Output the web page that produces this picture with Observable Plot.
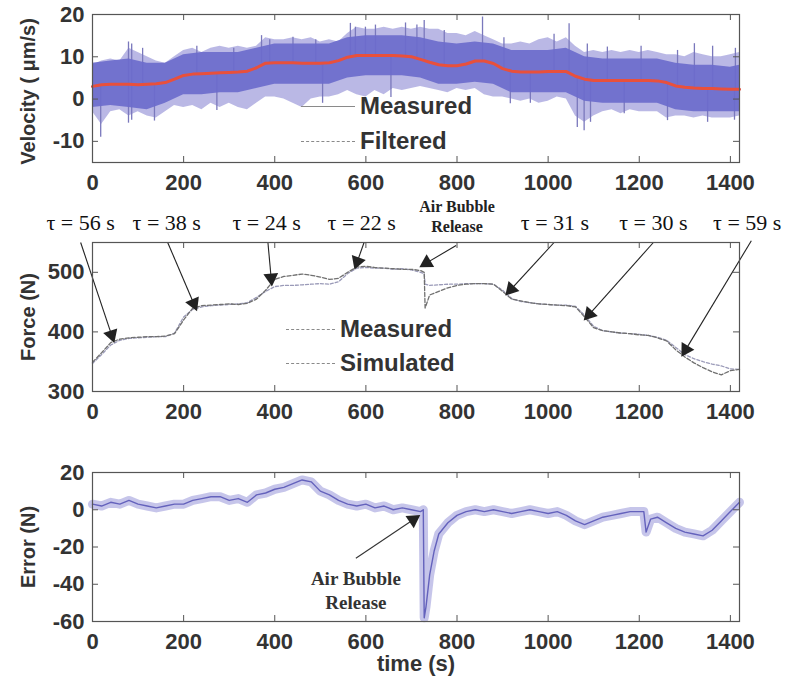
<!DOCTYPE html>
<html><head><meta charset="utf-8">
<script src="https://cdn.jsdelivr.net/npm/d3@7"></script>
<script src="https://cdn.jsdelivr.net/npm/@observablehq/plot@0.6"></script>
<style>
body{margin:0;background:#fff;}
#wrap{position:relative;width:792px;height:687px;overflow:hidden;font-family:"Liberation Sans",Arial,sans-serif;}
.p{position:absolute;left:0;}
.lg{position:absolute;font-size:24px;font-weight:bold;color:#333;line-height:24px;transform:translateY(-50%);white-space:nowrap;}
.ln{position:absolute;height:0;border-top:1.3px solid #8a8a8a;}
.ln.d{border-top-style:dashed;}
</style></head><body>
<div id="wrap">
  <div class="p" id="p1" style="top:0"></div>
  <div class="p" id="p2" style="top:200px"></div>
  <div class="p" id="p3" style="top:430px"></div>
</div>
<script>
// ---------- shared axis ticks ----------
const xTicks = [0, 200, 400, 600, 800, 1000, 1200, 1400];
const velTicks = [-10, 0, 10, 20];
const forceTicks = [300, 400, 500];
const errTicks = [-60, -40, -20, 0, 20];

// ---------- Panel 1: velocity (µm/s) ----------
const vTime = [0,20,40,60,80,100,120,140,160,180,200,220,240,260,280,300,320,340,360,380,400,420,440,460,480,500,520,540,560,580,600,620,640,660,680,700,720,740,760,780,800,820,840,860,880,900,920,940,960,980,1000,1020,1040,1060,1080,1100,1120,1140,1160,1180,1200,1220,1240,1260,1280,1300,1320,1340,1360,1380,1400,1420];
const vUpper = [8,9,9.5,9,12,11,10,9,8.5,10, 11.5,12,11,12,12.5,12,12.5,12,12.5,14.5, 14,14,14.5,14,14.5,13.5,14,13.5,15.5,17, 16.5,16.5,17,16.5,17,16.5,17,16.5,16.5,15.5, 15.5,15,16,15,14,13,13,13.5,13,14, 14.5,13.5,14.5,12.5,11,11.5,11,11.5,11,11.5, 11,11.5,11,10.5,10.5,10,11,10.5,10,10, 10.5,11];
const vLower = [-3,-6,-3,-2.5,-4,-3,-4,-4.5,-3,-1.5, -2,-1.5,-2.5,-1,-2,-1,-2,-2.5,-1,0.5, 0.5,0,-1,-2,0,0.5,0.5,1,2,1, 0.5,2,1,2.5,2,2.5,3,2.5,2,1.5, 2.5,2,2.5,1,0.5,0.5,0,-0.5,0,-1, -0.5,0.5,0,-4,-5.5,-4,-3,-2.5,-3.5,-2.5, -3,-3,-3,-4.5,-4,-4,-4.5,-4,-4.5,-4.5, -4.5,-4];
const vFiltered = [3.0,3.4,3.5,3.5,3.5,3.4,3.5,3.6,3.9,4.7, 5.6,5.9,6.0,6.1,6.2,6.3,6.4,6.6,7.4,8.5, 8.6,8.6,8.6,8.5,8.5,8.5,8.6,9.1,9.9,10.3, 10.3,10.3,10.3,10.3,10.2,10.0,9.4,8.7,8.1,7.9, 7.9,8.3,9.0,9.0,8.4,7.2,6.6,6.4,6.4,6.4, 6.5,6.5,6.5,5.4,4.7,4.4,4.4,4.4,4.4,4.4, 4.4,4.4,4.3,3.9,3.1,2.8,2.6,2.5,2.5,2.4, 2.3,2.3];
const coreTime = [0,40,80,120,160,200,240,280,320,360,400,440,480,520,560,600,640,680,720,760,800,840,880,920,960,1000,1040,1080,1120,1160,1200,1240,1280,1320,1360,1400,1420];
const coreUpper = [8.5,9,9.5,8.5,8.5,10.5,11,11,11,12,13,13,13,13,14.5,15,15,15,14.5,13.5,13,13.5,13,11.5,11.5,11.5,12,10,9.5,9.5,9.5,9.5,8.5,8,8,7.5,8];
const coreLower = [-2,-1.5,-2,-2.5,-1,1,1,1.5,1.5,2.5,3.5,3.5,3.5,3.5,5,5.5,5.5,5.5,5,3.5,3.5,4,3.5,1.5,1.5,1.5,1.5,-0.5,-1,-1,-1,-1,-2.5,-3,-3,-3,-3];
// individual spikes of the measured signal: time (s), tip value (µm/s)
const spikeT = [79,86,110,229,310,371,389,440,490,566,577,599,621,687,712,728,772,856,903,1013,1046,1086,1130,1204,1284,1321,1361,1411, 18,79,86,136,273,505,655,917,961,1064,1079,1093,1167,1262,1350,1409];
const spikeV = [13.5,13,12,12.5,12,15,14,14.6,14,17.9,17,17,17.5,18,17.5,18.6,16.2,19.4,14.5,15.3,17.8,13,12.3,12.5,11.5,13.1,12.5,12, -9,-5.7,-5,-5.2,-2.7,-1,0.4,-1.1,-1,-6.7,-7.5,-5.5,-3.5,-5.1,-5.5,-5];

// ---------- Panel 2: force (N) ----------
const fTime = [0,20,40,60,80,100,120,140,160,180,200,220,240,260,280,300,320,340,360,380,400,420,440,460,480,500,520,540,560,580,600,620,640,660,680,700,720,728,730,740,760,780,800,820,840,860,880,900,920,940,960,980,1000,1020,1040,1060,1080,1100,1120,1140,1160,1180,1200,1220,1240,1260,1280,1300,1320,1340,1360,1380,1400,1420];
const fMeasured = [349,365,382,388,390,391,392,392,393,397, 420,440,444,445,446,447,446,448,455,470, 488,493,495,497,495,492,488,490,500,509, 510,508,507,506,505,505,503, 500,440, 462,468,474,478,480,481,481,480,468,455, 452,449,447,446,445,444,442,425,407,402, 400,398,397,395,394,390,385,370,358,348, 340,333,328,335,337];
const fSimulated = [347,362,378,386,389,390,391,392,392,398, 425,438,442,444,445,446,447,449,458,468, 476,478,478,479,480,481,480,484,498,507, 508,507,507,505,506,504,500, 498,480, 478,479,480,480,481,481,481,480,470,456, 451,449,447,446,445,445,443,428,409,402, 400,398,397,396,394,391,386,374,362,355, 350,346,343,338,337];

// annotations (data units: time s, force N)
const tauText = ["τ = 56 s","τ = 38 s","τ = 24 s","τ = 22 s","τ = 31 s","τ = 30 s","τ = 59 s"];
const tauTextT = [-26, 163, 382, 591, 1015, 1231, 1437];
const tauTextF = 583;
const tauFromT = [-26, 165, 385, 596, 1013, 1231, 1446];
const tauFromF = [550, 550, 550, 550, 550, 550, 553];
const tauToT = [45, 226, 393, 578, 912, 1084, 1297];
const tauToF = [388, 441, 483, 511, 466, 424, 364];
const bubbleTopText = ["Air Bubble", "Release"];
const bubbleTopT = 800, bubbleTopF = [609, 577];
const bubbleTopArrow = {x1: 798, y1: 545, x2: 725, y2: 512};

// ---------- Panel 3: error (N) ----------
const eTime = [0,20,40,60,80,100,120,140,160,180,200,220,240,260,280,300,320,340,360,380,400,420,440,460,480,500,520,540,560,580,600,620,640,660,680,700,720,726,728,732,740,750,760,780,800,820,840,860,880,900,920,940,960,980,1000,1020,1040,1060,1080,1100,1120,1140,1160,1180,1200,1210,1215,1225,1240,1260,1280,1300,1320,1340,1360,1380,1400,1420];
const eValue = [3,2,4,3,5,3,2,1,2,3, 3,5,6,7,7,5,6,4,8,9, 11,12,14,16,15,10,8,5,3,2, 3,1,2,0,1,0,-1, 0,-58,-52,-35,-22,-13,-7, -3,-1,0,-1,0,-1,-2,-1,0,-1,-2,-1,-3,-6,-8,-6,-4,-3,-2,-1,-1, -1,-12,-5, -4,-7,-10,-12,-13,-14,-11,-6,-1,4];
const bubbleBotText = ["Air Bubble", "Release"];
const bubbleBotT = 578, bubbleBotE = [-37, -50];
const bubbleBotArrow = {x1: 578, y1: -26, x2: 712, y2: -4};

// ---------- helpers ----------
const W = 792, ML = 92, MR = 53;
const innerW = W - ML - MR;
const sans = "Liberation Sans, Arial, sans-serif";
const serif = "Liberation Serif, Times New Roman, serif";

function boxMarks(yTicks, innerH, yLabel, labelDy) {
  return [
    Plot.frame({stroke: "#555", strokeWidth: 1.2}),
    Plot.tickX(xTicks, {x: d => d, insetTop: innerH - 6, stroke: "#555"}),
    Plot.tickX(xTicks, {x: d => d, insetBottom: innerH - 6, stroke: "#555"}),
    Plot.tickY(yTicks, {y: d => d, insetRight: innerW - 6, stroke: "#555"}),
    Plot.tickY(yTicks, {y: d => d, insetLeft: innerW - 6, stroke: "#555"}),
    Plot.axisX({ticks: xTicks, tickSize: 0, tickPadding: 12, tickFormat: d => String(d), fontSize: 22, fontWeight: "bold", label: null}),
    Plot.axisY({ticks: yTicks, tickSize: 0, tickPadding: 8, tickFormat: d => String(d), fontSize: 22, fontWeight: "bold", label: null}),
    Plot.text([yLabel], {frameAnchor: "left", textAnchor: "middle", lineAnchor: "middle", dx: -64, dy: labelDy || 0, rotate: -90, text: d => d, fontSize: 20, fontWeight: "bold", fontFamily: sans, fill: "#333"})
  ];
}
// arrow heads: filled triangles placed at the arrow tips, rotated along the shaft
function headsFor(arrows, sx, sy) {
  return arrows.map(a => {
    const x1 = sx.apply(a.x1), y1 = sy.apply(a.y1), x2 = sx.apply(a.x2), y2 = sy.apply(a.y2);
    const L = Math.hypot(x2 - x1, y2 - y1), ux = (x2 - x1) / L, uy = (y2 - y1) / L;
    const back = 4.5;
    return {x: sx.invert(x2 - ux * back), y: sy.invert(y2 - uy * back), rot: Math.atan2(x2 - x1, -(y2 - y1)) * 180 / Math.PI};
  });
}
const baseStyle = {fontFamily: sans, color: "#333", background: "transparent", overflow: "visible"};
const sxAll = Plot.scale({x: {domain: [0, 1420], range: [ML, W - MR]}});

// ---------- Panel 1 ----------
const vRows = vTime.map((t, i) => ({t, lo: vLower[i], hi: vUpper[i], f: vFiltered[i]}));
const cRows = coreTime.map((t, i) => ({t, lo: coreLower[i], hi: coreUpper[i]}));
const spikeRows = spikeT.map((t, i) => {
  const k = d3.bisectCenter(vTime, t);
  return {t, tip: spikeV[i], base: vFiltered[k]};
});
const p1 = Plot.plot({
  width: W, height: 200, marginLeft: ML, marginRight: MR, marginTop: 14, marginBottom: 38,
  x: {domain: [0, 1420]}, y: {domain: [-15, 20]},
  style: baseStyle,
  marks: [
    Plot.areaY(vRows, {x: "t", y1: "lo", y2: "hi", fill: "#a3a0dc", fillOpacity: 0.75}),
    Plot.ruleX(spikeRows, {x: "t", y1: "base", y2: "tip", stroke: "#7a78bc", strokeWidth: 1.3}),
    Plot.areaY(cRows, {x: "t", y1: "lo", y2: "hi", fill: "#6b6bcc", fillOpacity: 0.92}),
    Plot.lineY(vRows, {x: "t", y: "f", stroke: "#e8503c", strokeWidth: 3}),
    ...boxMarks(velTicks, 148, "Velocity ( μm/s)", 3)
  ]
});
document.getElementById("p1").appendChild(p1);

// ---------- Panel 2 ----------
const fRows = fTime.map((t, i) => ({t, m: fMeasured[i], s: fSimulated[i]}));
const tauRows = tauText.map((s, i) => ({s, t: tauTextT[i], f: tauTextF}));
const tauArrows = tauText.map((s, i) => ({x1: tauFromT[i], y1: tauFromF[i], x2: tauToT[i], y2: tauToF[i]})).concat([bubbleTopArrow]);
const syF = Plot.scale({y: {domain: [300, 550], range: [230 - 39, 42]}});
const p2 = Plot.plot({
  width: W, height: 230, marginLeft: ML, marginRight: MR, marginTop: 42, marginBottom: 39,
  x: {domain: [0, 1420]}, y: {domain: [300, 550]},
  style: baseStyle,
  marks: [
    Plot.lineY(fRows, {x: "t", y: "s", stroke: "#9a9ab8", strokeWidth: 1.3, strokeDasharray: "3,2"}),
    Plot.lineY(fRows, {x: "t", y: "m", stroke: "#707070", strokeWidth: 1.3, strokeDasharray: "4,2"}),
    Plot.link(tauArrows, {x1: "x1", y1: "y1", x2: "x2", y2: "y2", stroke: "#222", strokeWidth: 1.1}),
    Plot.dot(headsFor(tauArrows, sxAll, syF), {x: "x", y: "y", rotate: "rot", symbol: "triangle", r: 5.5, fill: "#222", stroke: "none"}),
    Plot.text(tauRows, {x: "t", y: "f", text: "s", fontFamily: serif, fontSize: 22, fill: "#111"}),
    Plot.text(bubbleTopText, {x: () => bubbleTopT, y: (d, i) => bubbleTopF[i], text: d => d, fontFamily: serif, fontSize: 16, fontWeight: "bold", fill: "#222"}),
    ...boxMarks(forceTicks, 149, "Force (N)")
  ]
});
document.getElementById("p2").appendChild(p2);

// ---------- Panel 3 ----------
const eRows = eTime.map((t, i) => ({t, e: eValue[i]}));
const syE = Plot.scale({y: {domain: [-60, 20], range: [257 - 66, 42]}});
const p3 = Plot.plot({
  width: W, height: 257, marginLeft: ML, marginRight: MR, marginTop: 42, marginBottom: 66,
  x: {domain: [0, 1420]}, y: {domain: [-60, 20]},
  style: baseStyle,
  marks: [
    Plot.lineY(eRows, {x: "t", y: "e", stroke: "#8e8cd6", strokeWidth: 9, strokeOpacity: 0.5}),
    Plot.lineY(eRows, {x: "t", y: "e", stroke: "#6462bc", strokeWidth: 1.4}),
    Plot.link([bubbleBotArrow], {x1: "x1", y1: "y1", x2: "x2", y2: "y2", stroke: "#333", strokeWidth: 1.1}),
    Plot.dot(headsFor([bubbleBotArrow], sxAll, syE), {x: "x", y: "y", rotate: "rot", symbol: "triangle", r: 5.5, fill: "#222", stroke: "none"}),
    Plot.text(bubbleBotText, {x: () => bubbleBotT, y: (d, i) => bubbleBotE[i], text: d => d, fontFamily: serif, fontSize: 19, fontWeight: "bold", fill: "#333"}),
    ...boxMarks(errTicks, 149, "Error (N)"),
    Plot.text(["time (s)"], {frameAnchor: "bottom", dy: 49, text: d => d, fontSize: 22, fontWeight: "bold", fontFamily: sans, fill: "#333"})
  ]
});
document.getElementById("p3").appendChild(p3);

// ---------- legends (HTML overlay) ----------
const legendItems = [
  {label: "Measured", y: 106, x: 360, lx1: 301, lx2: 355, dashed: false},
  {label: "Filtered", y: 141, x: 360, lx1: 301, lx2: 355, dashed: true},
  {label: "Measured", y: 329, x: 340, lx1: 286, lx2: 335, dashed: true},
  {label: "Simulated", y: 363, x: 340, lx1: 286, lx2: 335, dashed: true}
];
const wrap = document.getElementById("wrap");
legendItems.forEach(d => {
  const ln = document.createElement("div");
  ln.className = "ln" + (d.dashed ? " d" : "");
  ln.style.left = d.lx1 + "px"; ln.style.width = (d.lx2 - d.lx1) + "px"; ln.style.top = d.y + "px";
  wrap.appendChild(ln);
  const t = document.createElement("div");
  t.className = "lg"; t.textContent = d.label;
  t.style.left = d.x + "px"; t.style.top = d.y + "px";
  wrap.appendChild(t);
});
</script>
</body></html>
